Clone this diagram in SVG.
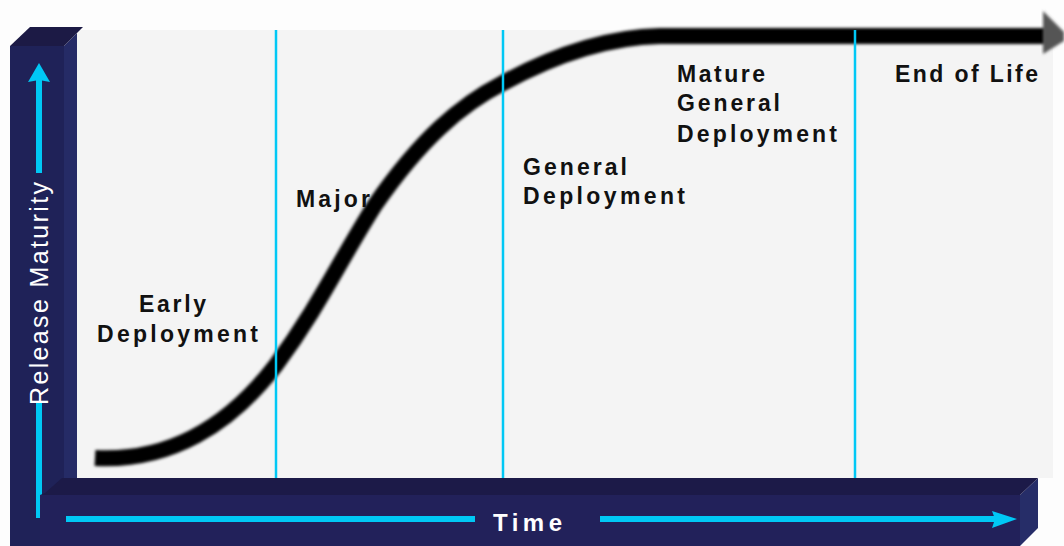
<svg xmlns="http://www.w3.org/2000/svg" width="1064" height="546" viewBox="0 0 1064 546">
  <style>
    .lbl { font-family: "Liberation Sans", Arial, sans-serif; font-weight: bold; font-size: 23px; fill: #111; }
    .axis { font-family: "Liberation Sans", Arial, sans-serif; fill: #ffffff; }
    .cyan { stroke: #00c8f5; fill: none; }
    .divider { stroke: #00c8f5; stroke-width: 2.5; }
  </style>
  <defs>
    <filter id="soft" x="-5%" y="-5%" width="110%" height="110%">
      <feGaussianBlur stdDeviation="1.4"/>
    </filter>
  </defs>

  <rect x="0" y="0" width="1064" height="546" fill="#fdfdfd"/>
  <!-- chart panel -->
  <rect x="77" y="30" width="976" height="448" fill="#f4f4f4"/>

  <!-- vertical axis bar -->
  <g id="y-axis">
    <polygon points="64,46 77,33 77,546 64,546" fill="#252b66"/>
    <polygon points="10,46 64,46 64,546 10,546" fill="#1f2258"/>
    <polygon points="10,46 30,27 83,27 64,46" fill="#1c1a45"/>
    <line class="cyan" x1="39" y1="80" x2="39" y2="173" stroke-width="6"/>
    <line class="cyan" x1="39" y1="403" x2="39" y2="518" stroke-width="6"/>
    <polygon points="39,63 50,82 39,80 28,82" fill="#00c8f5"/>
    <text class="axis" x="0" y="0" font-size="25" textLength="223" lengthAdjust="spacing" transform="translate(48,405) rotate(-90)">Release Maturity</text>
  </g>

  <!-- horizontal axis bar -->
  <g id="x-axis">
    <polygon points="40,495 1020,495 1020,546 40,546" fill="#22215a"/>
    <polygon points="1020,495 1038,478 1038,528 1020,546" fill="#262d68"/>
    <polygon points="45,493 62,478 1038,478 1020,495 40,495" fill="#1c1a48"/>
    <line class="cyan" x1="66" y1="519" x2="475" y2="519" stroke-width="6"/>
    <line class="cyan" x1="600" y1="519" x2="996" y2="519" stroke-width="6"/>
    <polygon points="1017,519 992,528 995,519 992,511" fill="#00c8f5"/>
    <text class="axis" x="493" y="531" font-size="24" font-weight="bold" textLength="69" lengthAdjust="spacing">Time</text>
  </g>

  <!-- maturity curve -->
  <g id="connectors">
    <path id="curve" d="M95,458 C170,462 230,425 276,365 C320,305 340,260 375,205 C420,140 460,105 503,83 C560,52 610,37 660,36 L1046,36" fill="none" stroke="#000" stroke-width="16" filter="url(#soft)"/>
    <polygon points="1043,11 1064,32 1064,41 1043,54" fill="#555" filter="url(#soft)"/>
  </g>

  <!-- phase dividers -->
  <g id="dividers">
    <line class="divider" x1="276" y1="30" x2="276" y2="478"/>
    <line class="divider" x1="503" y1="30" x2="503" y2="478"/>
    <line class="divider" x1="855" y1="30" x2="855" y2="478"/>
  </g>

  <g id="early-deployment">
    <text class="lbl" x="139" y="312" textLength="67" lengthAdjust="spacing">Early</text>
    <text class="lbl" x="97" y="342" textLength="161" lengthAdjust="spacing">Deployment</text>
  </g>
  <g id="major">
    <text class="lbl" x="296" y="207" textLength="74" lengthAdjust="spacing">Major</text>
  </g>
  <g id="general-deployment">
    <text class="lbl" x="523" y="175" textLength="104" lengthAdjust="spacing">General</text>
    <text class="lbl" x="523" y="204" textLength="162" lengthAdjust="spacing">Deployment</text>
  </g>
  <g id="mature-general-deployment">
    <text class="lbl" x="677" y="82" textLength="88" lengthAdjust="spacing">Mature</text>
    <text class="lbl" x="677" y="111" textLength="103" lengthAdjust="spacing">General</text>
    <text class="lbl" x="677" y="142" textLength="160" lengthAdjust="spacing">Deployment</text>
  </g>
  <g id="end-of-life">
    <text class="lbl" x="895" y="82" textLength="143" lengthAdjust="spacing">End of Life</text>
  </g>
</svg>
